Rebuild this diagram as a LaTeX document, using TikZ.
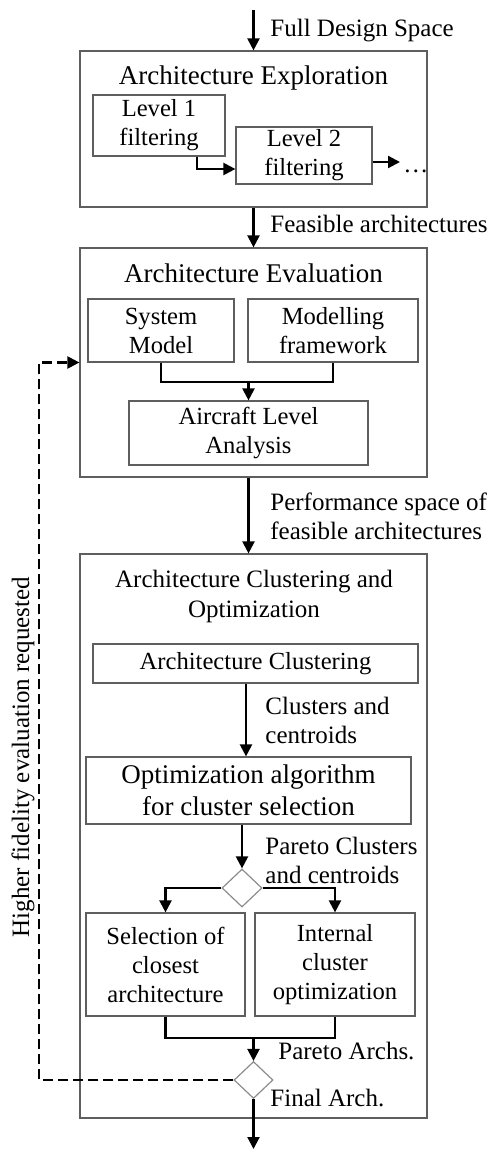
\documentclass[tikz,border=0pt]{standalone}
\usepackage{fontspec}
\setmainfont{Liberation Serif}
\usepackage{xcolor}
\usetikzlibrary{shapes,arrows,positioning,calc,arrows.meta}
\definecolor{framegray}{HTML}{5E5E5E}
\definecolor{diagray}{HTML}{8C8C8C}

\begin{document}
\begin{tikzpicture}[x=0.5pt, y=-0.5pt, >={Triangle[length=6pt,width=6pt]},
    every node/.style={font=\fontsize{12.3}{14.5}\selectfont},
    stage/.style={draw=framegray, line width=0.6pt, rectangle, inner sep=0pt},
    block/.style={draw=framegray, line width=0.6pt, rectangle, inner sep=0pt, align=center},
    decision/.style={draw=diagray, line width=0.6pt, diamond, inner sep=0pt, minimum width=20pt, minimum height=19pt},
    note/.style={font=\fontsize{12.5}{14.5}\selectfont, align=left, inner sep=0pt},
    heading/.style={font=\fontsize{13.5}{15}\selectfont, inner sep=0pt, align=center},
    flow/.style={line width=1.1pt}]
    \useasboundingbox (0,0) rectangle (487,1150);

    % outer stages
    \node [stage, minimum width=173.5pt, minimum height=78pt] (explore) at (253.5,129) {};
    \node [stage, minimum width=173.5pt, minimum height=114.5pt] (evaluate) at (253.5,362.5) {};
    \node [stage, minimum width=173.5pt, minimum height=282pt] (optimize) at (253.5,836) {};

    \node [heading, anchor=base] (exploretitle) at (253.5,85) {Architecture Exploration};
    \node [heading, anchor=base] (evaltitle) at (253.5,282) {Architecture Evaluation};
    \node [heading, font=\fontsize{12.5}{15}\selectfont] (opttitle) at (254,596) {Architecture Clustering and\\Optimization};

    % inner blocks
    \node [block, minimum width=66pt, minimum height=30.5pt] (level1) at (159,125.5) {Level 1\\filtering};
    \node [block, minimum width=68pt, minimum height=28.5pt] (level2) at (304,155.5) {Level 2\\filtering};
    \node [block, minimum width=73pt, minimum height=31.5pt] (sysmodel) at (161,330.5) {System\\Model};
    \node [block, minimum width=85pt, minimum height=31.5pt] (framework) at (333,330.5) {Modelling\\framework};
    \node [block, minimum width=119.5pt, minimum height=32pt] (aircraft) at (248.5,433) {Aircraft Level\\Analysis};
    \node [block, minimum width=162.5pt, minimum height=19.5pt] (clustering) at (255.5,663.5) {Architecture Clustering};
    \node [block, minimum width=162.5pt, minimum height=33.5pt, font=\fontsize{13.5}{16}\selectfont] (optimizer) at (248.5,790.5) {Optimization algorithm\\for cluster selection};
    \node [decision] (pick) at (242,888) {};
    \node [block, minimum width=79.5pt, minimum height=51.5pt] (closest) at (165.5,964.5) {Selection of\\closest\\architecture};
    \node [block, minimum width=80pt, minimum height=51.5pt] (internal) at (335,964.5) {Internal\\cluster\\optimization};
    \node [decision, minimum width=19.5pt, minimum height=18.5pt] (final) at (253.5,1080) {};

    % labels
    \node [note, anchor=base west] (fullspace) at (270,37) {Full Design Space};
    \node [note, anchor=base west] (feasible) at (270,233) {Feasible architectures};
    \node [note, anchor=west] (perfspace) at (270,516) {Performance space of\\feasible architectures};
    \node [note, anchor=west] (centroids) at (265,720) {Clusters and\\centroids};
    \node [note, anchor=west] (paretoclusters) at (265,860) {Pareto Clusters\\and centroids};
    \node [note, anchor=base west] (paretoarchs) at (278,1059) {Pareto Archs.};
    \node [note, anchor=base west] (finalarch) at (270,1106) {Final Arch.};
    \node [note, rotate=90] (higher) at (23,757) {Higher fidelity evaluation requested};
    \node [note, anchor=base west] (dots) at (403,173) {\dots};

    \coordinate (start) at (253.5,10);
    \coordinate (more) at (400,162);
    \coordinate (merge) at (248.5,382);
    \coordinate (join) at (253.5,1038);
    \coordinate (back) at (39,362.5);
    \coordinate (out) at (253.5,1149);

    % connectors
    \draw [->, flow] (start) -- (explore.north);
    \draw [->, flow] (explore) -- (evaluate);
    \draw [->, flow] ([xshift=19pt]level1.south) |- ([yshift=-6.75pt]level2.west);
    \draw [->, flow] (level2.east |- more) -- (more);
    \draw [flow] (sysmodel.south) |- (merge) -| (framework.south);
    \draw [->, flow] (merge) -- (aircraft.north);
    \draw [->, flow] (evaluate.south -| aircraft.south) -- (optimize.north -| aircraft.south);
    \draw [->, flow] ([xshift=-4.75pt]clustering.south) -- ([xshift=-4.75pt]clustering.south |- optimizer.north);
    \draw [->, flow] (optimizer.south -| pick.north) -- (pick.north);
    \draw [->, flow] (pick.west) -| (closest.north);
    \draw [->, flow] (pick.east) -| (internal.north);
    \draw [flow] (closest.south) |- (join) -| (internal.south);
    \draw [->, flow] (join) -- (final.north);
    \draw [->, flow, dash pattern=on 5pt off 2.5pt] (final.west) -| (back) -- (evaluate.west);
    \draw [->, flow] (final.south) -- (out);
\end{tikzpicture}
\end{document}
